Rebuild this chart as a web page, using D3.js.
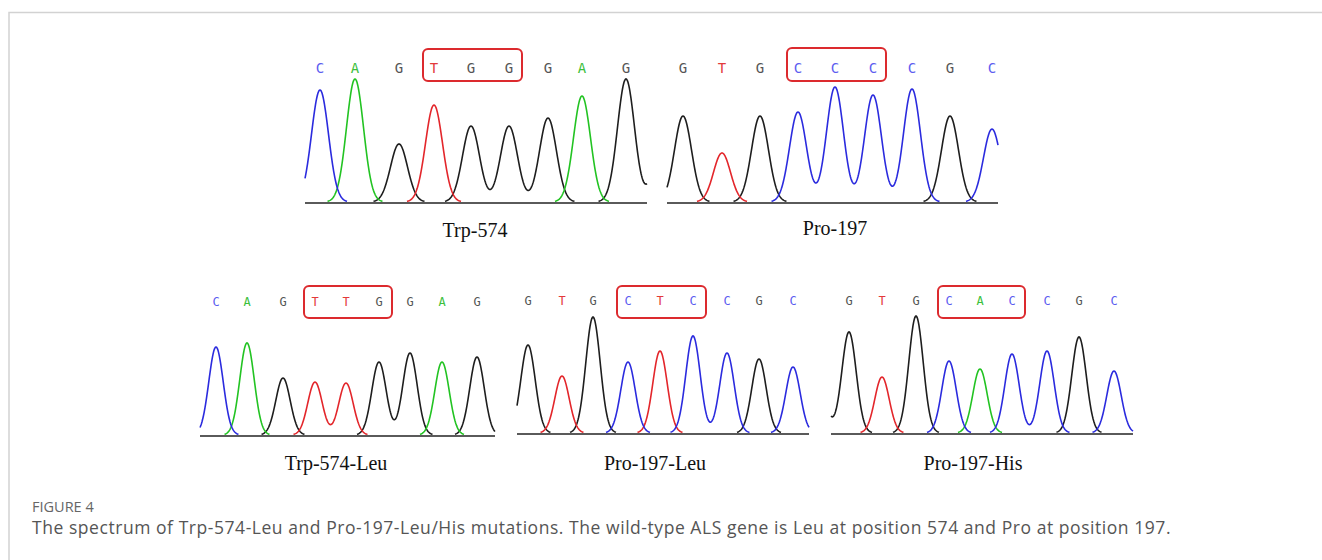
<!DOCTYPE html>
<html>
<head>
    <title>ALS mutation spectra</title>
    <script src="https://d3js.org/d3.v7.min.js"></script>
    <style>
        body { margin: 0; background: #fff; }
    </style>
</head>
<body>
    <svg id="chart"></svg>

    <script>
        // Called bases, peak scan positions and peak heights for each trace
        const trp574Bases = ['C', 'A', 'G', 'T', 'G', 'G', 'G', 'A', 'G', 'G'];
        const trp574Scan = [15, 50, 94, 129, 166, 204, 243, 277, 321, 357];
        const trp574Height = [112, 123, 58, 97, 76, 76, 84, 106, 123, 60];

        const pro197Bases = ['G', 'T', 'G', 'C', 'C', 'C', 'C', 'G', 'C'];
        const pro197Scan = [16, 55, 93, 131, 168, 206, 245, 283, 325];
        const pro197Height = [86, 49, 86, 90, 115, 107, 113, 86, 73];

        const trpLeuBases = ['C', 'A', 'G', 'T', 'T', 'G', 'G', 'A', 'G'];
        const trpLeuScan = [16, 47, 83, 115, 146, 179, 210, 242, 277];
        const trpLeuHeight = [88, 92, 57, 53, 52, 73, 82, 73, 78];

        const proLeuBases = ['G', 'T', 'G', 'C', 'T', 'C', 'C', 'G', 'C'];
        const proLeuScan = [11, 45, 76, 111, 143, 176, 210, 242, 276];
        const proLeuHeight = [88, 57, 116, 71, 82, 97, 80, 74, 66];

        const proHisBases = ['G', 'G', 'T', 'G', 'C', 'A', 'C', 'C', 'G', 'C'];
        const proHisScan = [-11, 18, 51, 85, 118, 149, 181, 216, 248, 283];
        const proHisHeight = [40, 101, 56, 117, 72, 64, 79, 82, 96, 62];

        const panelNames = ['Trp-574', 'Pro-197', 'Trp-574-Leu', 'Pro-197-Leu', 'Pro-197-His'];
        const scanLength = [342, 331, 295, 292, 302];
        const codonStart = [3, 3, 3, 3, 3];

        const captionTitle = 'FIGURE 4';
        const captionText = 'The spectrum of Trp-574-Leu and Pro-197-Leu/His mutations. The wild-type ALS gene is Leu at position 574 and Pro at position 197.';

        // Layout
        const width = 1322;
        const height = 560;

        const traceColor = { A: '#22c322', C: '#2b2bde', G: '#1e1e1e', T: '#e3262b' };
        const letterColor = { A: '#3cc03c', C: '#5c5cf0', G: '#555555', T: '#e33a3a' };

        const layout = [
            { x0: 305, x1: 647, base: 203, letterY: 73, boxY: 49, boxH: 32, labelX: 475, labelY: 237, sigma: 8.5, letterSize: 14 },
            { x0: 667, x1: 998, base: 203, letterY: 73, boxY: 48, boxH: 33, labelX: 835, labelY: 235, sigma: 8.5, letterSize: 14 },
            { x0: 200, x1: 495, base: 436, letterY: 306, boxY: 286, boxH: 32, labelX: 336, labelY: 470, sigma: 7.2, letterSize: 12 },
            { x0: 517, x1: 809, base: 434, letterY: 305, boxY: 286, boxH: 32, labelX: 655, labelY: 470, sigma: 7.2, letterSize: 12 },
            { x0: 831, x1: 1133, base: 434, letterY: 305, boxY: 286, boxH: 32, labelX: 973, labelY: 470, sigma: 7.2, letterSize: 12 }
        ];

        const panelData = [
            [trp574Bases, trp574Scan, trp574Height],
            [pro197Bases, pro197Scan, pro197Height],
            [trpLeuBases, trpLeuScan, trpLeuHeight],
            [proLeuBases, proLeuScan, proLeuHeight],
            [proHisBases, proHisScan, proHisHeight]
        ];

        const svg = d3.select('#chart')
            .attr('width', width)
            .attr('height', height);

        svg.append('rect')
            .attr('width', width)
            .attr('height', height)
            .attr('fill', '#fff');

        // Frame lines
        svg.append('path')
            .attr('d', `M9,${height} V12.5 H${width}`)
            .attr('fill', 'none')
            .attr('stroke', '#d2d2d2')
            .attr('stroke-width', 1.5);

        panelData.forEach(([bases, scan, heights], i) => {
            const L = layout[i];
            const g = svg.append('g');

            const x = d3.scaleLinear()
                .domain([0, scanLength[i]])
                .range([L.x0, L.x1]);

            const y = d3.scaleLinear()
                .domain([0, 130])
                .range([L.base - 1, L.base - 131]);

            const peaks = bases.map((b, k) => ({ base: b, scan: scan[k], h: heights[k] }));
            const called = peaks.filter(p => p.scan >= 0 && p.scan <= scanLength[i]);

            // One trace per dye channel, each a sum of its peaks
            const samples = d3.range(0, scanLength[i] + 0.01, 0.5);
            ['G', 'A', 'T', 'C'].forEach(ch => {
                const own = peaks.filter(p => p.base === ch);
                if (!own.length) return;
                const pts = samples.map(s => ({
                    s: s,
                    v: d3.sum(own, p => p.h * Math.exp(-((s - p.scan) ** 2) / (2 * L.sigma * L.sigma)))
                }));
                const line = d3.line()
                    .defined(d => d.v > 0.6)
                    .x(d => x(d.s))
                    .y(d => y(d.v));
                g.append('path')
                    .datum(pts)
                    .attr('d', line)
                    .attr('fill', 'none')
                    .attr('stroke', traceColor[ch])
                    .attr('stroke-width', 1.6);
            });

            // Baseline
            g.append('line')
                .attr('x1', L.x0)
                .attr('x2', L.x1)
                .attr('y1', L.base)
                .attr('y2', L.base)
                .attr('stroke', '#5a5a5a')
                .attr('stroke-width', 2);

            // Base calls
            g.selectAll('.call')
                .data(called)
                .enter()
                .append('text')
                .attr('class', 'call')
                .attr('x', d => x(d.scan))
                .attr('y', L.letterY)
                .attr('text-anchor', 'middle')
                .attr('font-family', 'DejaVu Sans Mono, monospace')
                .attr('font-size', L.letterSize)
                .attr('fill', d => letterColor[d.base])
                .text(d => d.base);

            // Codon box
            const c0 = called[codonStart[i]];
            const c1 = called[codonStart[i] + 2];
            g.append('rect')
                .attr('x', x(c0.scan) - 11)
                .attr('y', L.boxY)
                .attr('width', x(c1.scan) - x(c0.scan) + 24)
                .attr('height', L.boxH)
                .attr('rx', 5)
                .attr('fill', 'none')
                .attr('stroke', '#dc2a2e')
                .attr('stroke-width', 2);

            // Panel label
            g.append('text')
                .attr('x', L.labelX)
                .attr('y', L.labelY)
                .attr('text-anchor', 'middle')
                .attr('font-family', 'Liberation Serif, Times New Roman, serif')
                .attr('font-size', 20)
                .attr('fill', '#111')
                .text(panelNames[i]);
        });

        // Caption
        svg.append('text')
            .attr('x', 32)
            .attr('y', 512)
            .attr('font-family', 'Open Sans, sans-serif')
            .attr('font-size', 14.5)
            .attr('fill', '#666')
            .text(captionTitle);

        svg.append('text')
            .attr('x', 32)
            .attr('y', 534)
            .attr('font-family', 'Open Sans, sans-serif')
            .attr('font-size', 17.5)
            .attr('letter-spacing', 0.55)
            .attr('fill', '#555')
            .text(captionText);
    </script>
</body>
</html>
